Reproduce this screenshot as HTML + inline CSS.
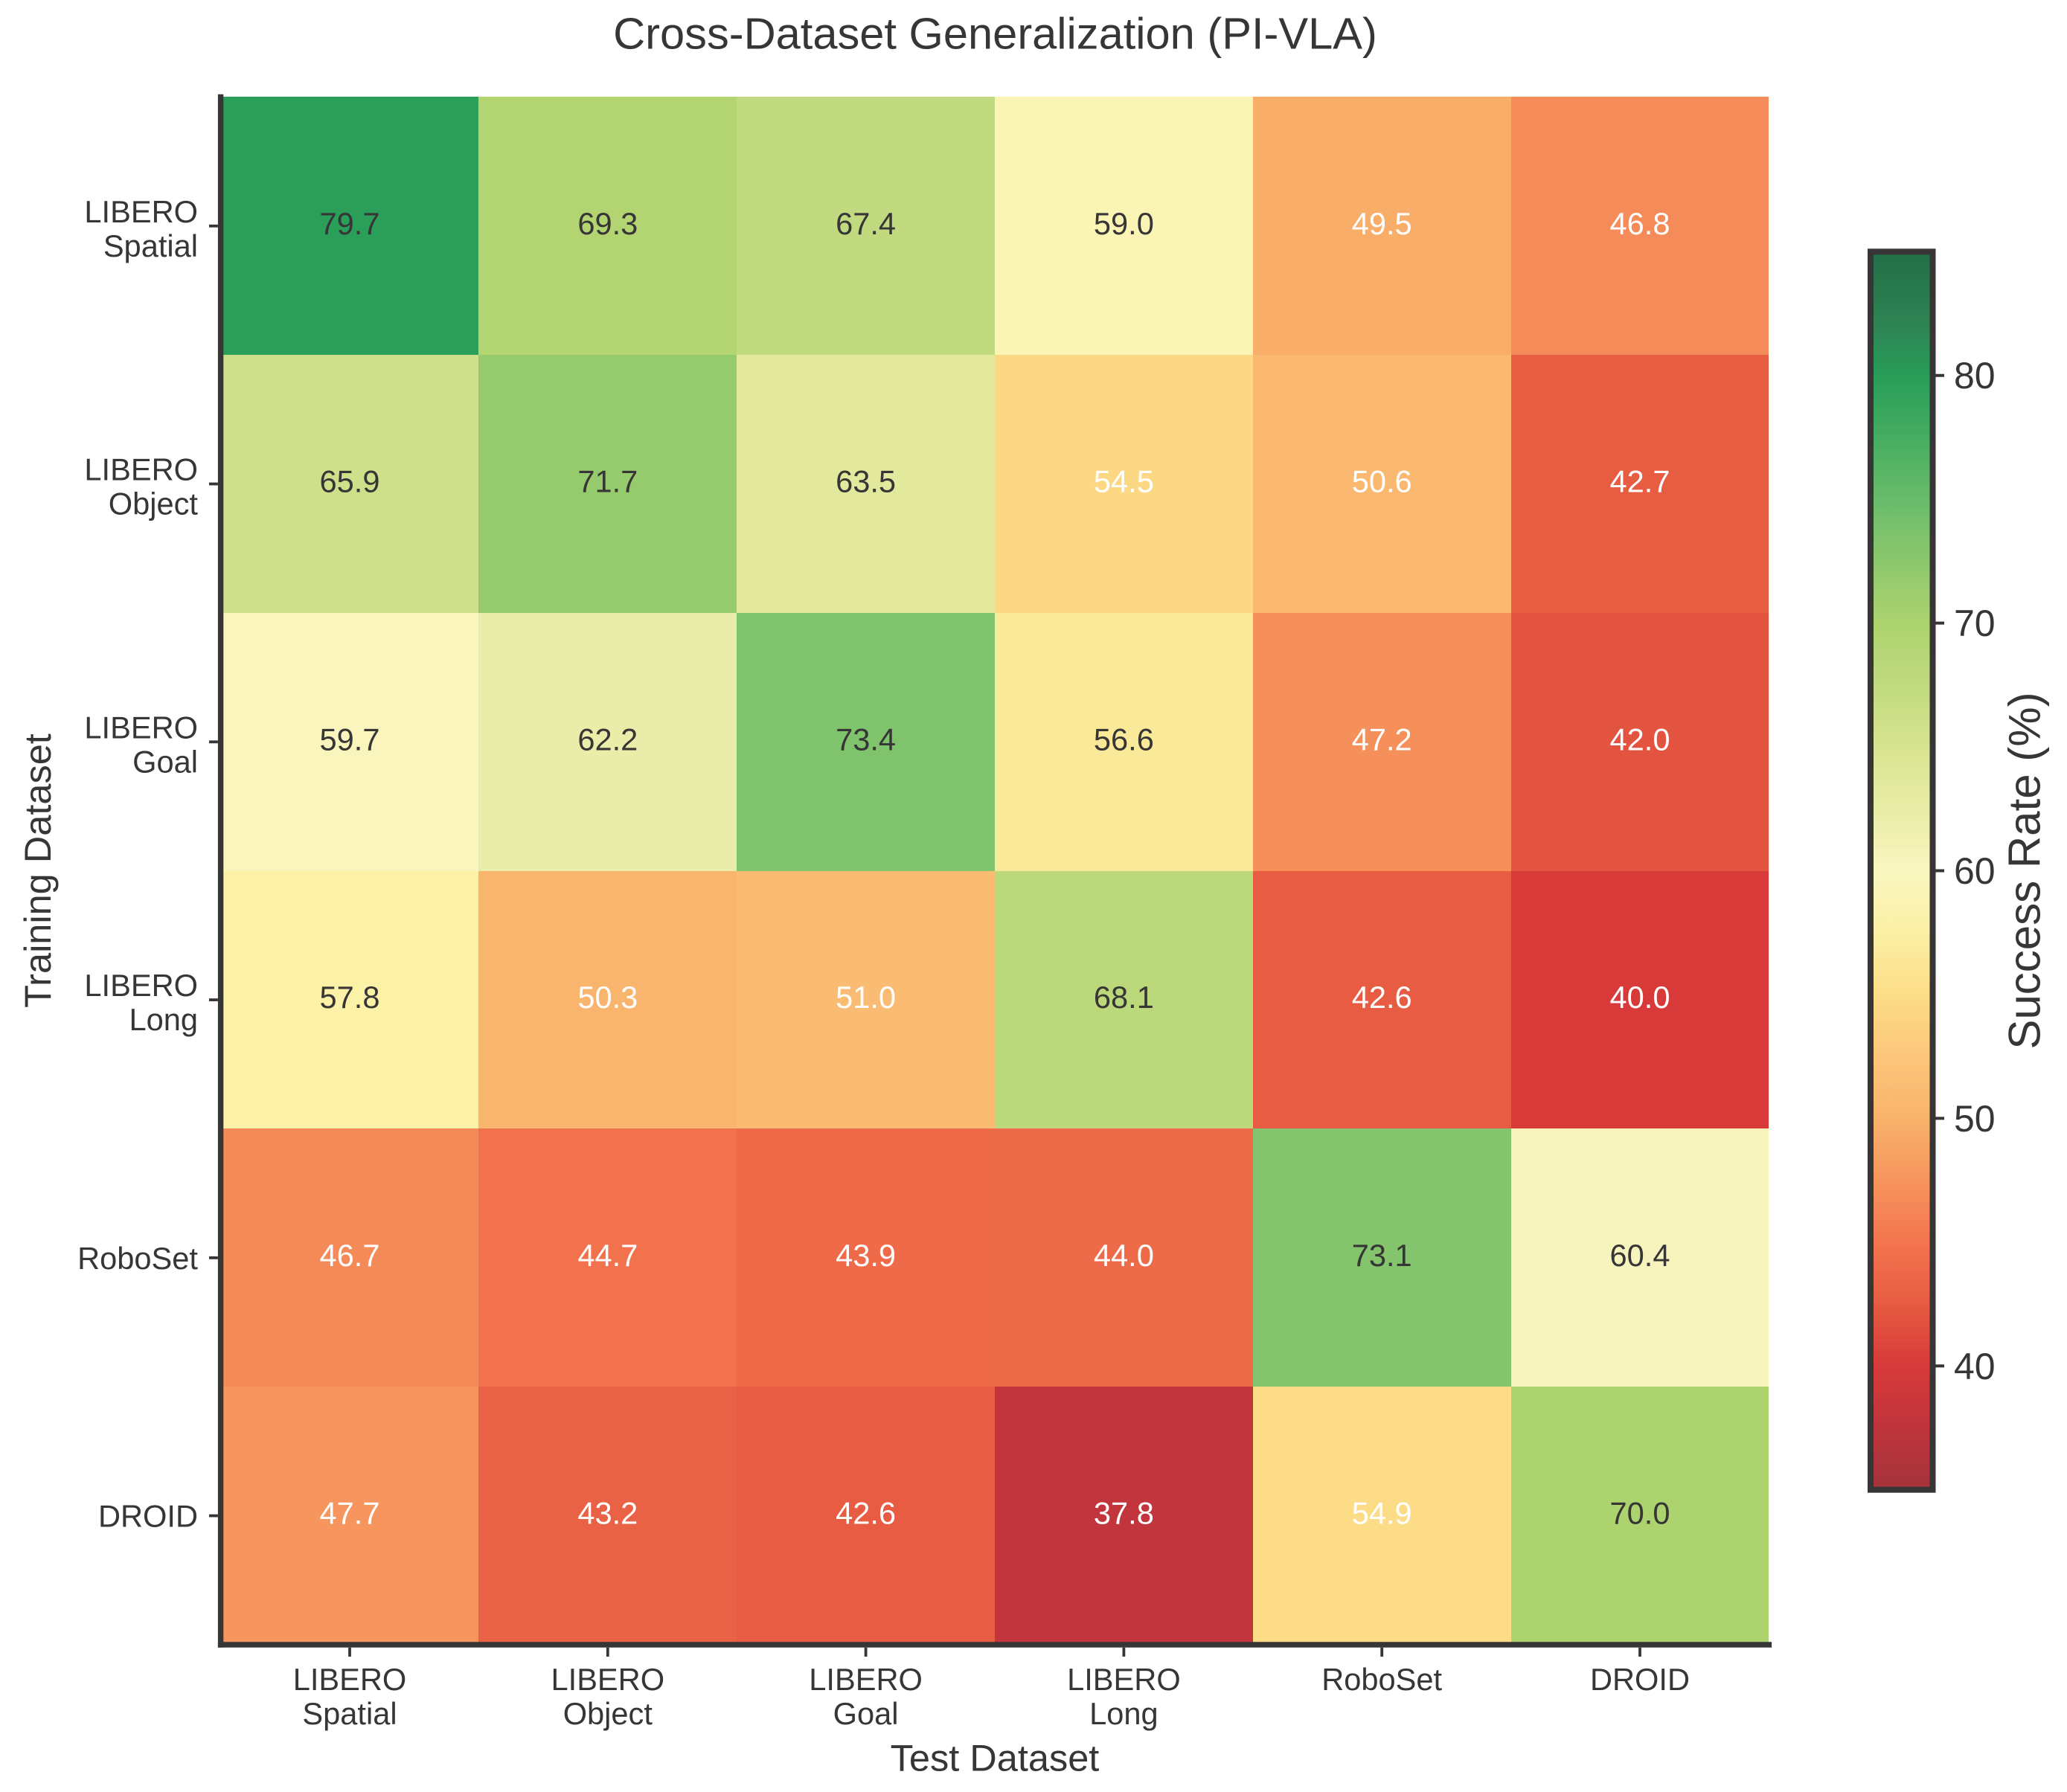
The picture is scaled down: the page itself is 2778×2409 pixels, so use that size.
<!DOCTYPE html>
<html lang="en">
<head>
<meta charset="utf-8">
<title>Cross-Dataset Generalization (PI-VLA)</title>
<style>
html,body{margin:0;padding:0;background:#fff;}
svg{display:block;}
text{font-family:"Liberation Sans",Arial,sans-serif;fill:#373536;}
</style>
</head>
<body>
<svg id="chart" xmlns="http://www.w3.org/2000/svg" width="2778" height="2409" viewBox="0 0 2778 2409">
  <rect x="0" y="0" width="2778" height="2409" fill="#ffffff"/>
  <text x="1337.5" y="65.5" font-size="59.6" text-anchor="middle">Cross-Dataset Generalization (PI-VLA)</text>
  <g id="cells"></g>
  <g id="xAxis"></g>
  <g id="yAxis"></g>
  <text x="1337" y="2380.5" font-size="50.5" text-anchor="middle">Test Dataset</text>
  <text transform="translate(68 1170.5) rotate(-90)" font-size="50.5" text-anchor="middle">Training Dataset</text>
  <defs>
    <linearGradient id="cbarGradient" x1="0" y1="1" x2="0" y2="0"></linearGradient>
  </defs>
  <g id="colorbar"></g>
  <text transform="translate(2741.5 1170.5) rotate(-90)" font-size="60" text-anchor="middle">Success Rate (%)</text>
</svg>
<script>
const testDatasets = [["LIBERO", "Spatial"], ["LIBERO", "Object"], ["LIBERO", "Goal"], ["LIBERO", "Long"], ["RoboSet"], ["DROID"]];
const trainDatasets = [["LIBERO", "Spatial"], ["LIBERO", "Object"], ["LIBERO", "Goal"], ["LIBERO", "Long"], ["RoboSet"], ["DROID"]];
const rowLiberoSpatial = [79.7, 69.3, 67.4, 59.0, 49.5, 46.8];
const rowLiberoObject = [65.9, 71.7, 63.5, 54.5, 50.6, 42.7];
const rowLiberoGoal = [59.7, 62.2, 73.4, 56.6, 47.2, 42.0];
const rowLiberoLong = [57.8, 50.3, 51.0, 68.1, 42.6, 40.0];
const rowRoboSet = [46.7, 44.7, 43.9, 44.0, 73.1, 60.4];
const rowDroid = [47.7, 43.2, 42.6, 37.8, 54.9, 70.0];
const successRates = [rowLiberoSpatial, rowLiberoObject, rowLiberoGoal, rowLiberoLong, rowRoboSet, rowDroid];
const colorDomain = [35, 85];
const colorbarTicks = [40, 50, 60, 70, 80];
const colormapLevels = [35, 37.5, 40, 42.5, 45, 47.5, 50, 52.5, 55, 57.5, 60, 62.5, 65, 67.5, 70, 72.5, 75, 77.5, 80, 82, 85];
const colormapColors = ["#a5333b", "#bf343c", "#d83a3a", "#e65b41", "#f4754f", "#f6945d", "#f9b36c", "#fcc67b", "#fcdd88", "#fbf0a4", "#f9f6c0", "#e8eca6", "#d8e490", "#c0da7e", "#acd36e", "#8cc76d", "#68bc6b", "#45ac60", "#279d58", "#2f8455", "#216e46"];
const whiteTextBelow = 55;

const SVG_NS = "http://www.w3.org/2000/svg";
const INK = "#373536";
const plot = { left: 296.6, right: 2377.4, top: 130.4, bottom: 2211 };
const cbar = { left: 2514, right: 2597.5, top: 338.3, bottom: 2002.7 };

function make(tag, attrs, parent) {
  const el = document.createElementNS(SVG_NS, tag);
  for (const k in attrs) el.setAttribute(k, attrs[k]);
  parent.appendChild(el);
  return el;
}
function xBand(c) { return plot.left + (plot.right - plot.left) * c / testDatasets.length; }
function yBand(r) { return plot.top + (plot.bottom - plot.top) * r / trainDatasets.length; }
function xCenter(c) { return xBand(c + 0.5); }
function yCenter(r) { return yBand(r + 0.5); }
function colorFraction(v) { return (v - colorDomain[0]) / (colorDomain[1] - colorDomain[0]); }
function cbarY(v) { return cbar.bottom - (cbar.bottom - cbar.top) * colorFraction(v); }
function hexToRgb(h) { return [1, 3, 5].map(i => parseInt(h.substr(i, 2), 16)); }
function colorFor(v) {
  const clamped = Math.max(colorDomain[0], Math.min(colorDomain[1], v));
  let i = 0;
  while (i < colormapLevels.length - 2 && clamped > colormapLevels[i + 1]) i++;
  const f = (clamped - colormapLevels[i]) / (colormapLevels[i + 1] - colormapLevels[i]);
  const a = hexToRgb(colormapColors[i]);
  const b = hexToRgb(colormapColors[i + 1]);
  const rgb = a.map((x, k) => Math.round(x + (b[k] - x) * f));
  return "rgb(" + rgb.join(",") + ")";
}

const cellsG = document.getElementById("cells");
successRates.forEach((row, r) => {
  row.forEach((value, c) => {
    const x0 = Math.round(xBand(c)), x1 = Math.round(xBand(c + 1));
    const y0 = Math.round(yBand(r)), y1 = Math.round(yBand(r + 1));
    const cell = make("rect", { x: x0, y: y0, width: x1 - x0, height: y1 - y0, fill: colorFor(value), "shape-rendering": "crispEdges" }, cellsG);
    
    
  });
});
successRates.forEach((row, r) => {
  row.forEach((value, c) => {
    const label = make("text", { x: xCenter(c), y: yCenter(r) + 11, "font-size": 41.6, "text-anchor": "middle" }, cellsG);
    
    
    label.style.fill = value < whiteTextBelow ? "#ffffff" : INK;
    label.textContent = value.toFixed(1);
  });
});

const xAxisG = document.getElementById("xAxis");
const yAxisG = document.getElementById("yAxis");
const leftSpine = make("line", { x1: plot.left, y1: plot.top - 3.6, x2: plot.left, y2: plot.bottom + 3.7, stroke: INK, "stroke-width": 7.4 }, yAxisG);


const bottomSpine = make("line", { x1: plot.left - 3.7, y1: plot.bottom, x2: plot.right + 3.7, y2: plot.bottom, stroke: INK, "stroke-width": 7.6 }, xAxisG);



testDatasets.forEach((lines, c) => {
  const x = xCenter(c);
  const tick = make("line", { x1: x, y1: plot.bottom + 3.8, x2: x, y2: 2227, stroke: INK, "stroke-width": 3.8 }, xAxisG);
  
  
  lines.forEach((line, i) => {
    const t = make("text", { x: x, y: 2272 + i * 46, "font-size": 41.6, "text-anchor": "middle" }, xAxisG);
    
    
    t.textContent = line;
  });
});
trainDatasets.forEach((lines, r) => {
  const y = yCenter(r);
  const tick = make("line", { x1: 281, y1: y, x2: plot.left - 3.7, y2: y, stroke: INK, "stroke-width": 3.8 }, yAxisG);
  
  
  const firstBaseline = lines.length === 2 ? y - 5 : y + 15;
  lines.forEach((line, i) => {
    const t = make("text", { x: 266, y: firstBaseline + i * 46, "font-size": 41.6, "text-anchor": "end" }, yAxisG);
    
    
    t.textContent = line;
  });
});

const grad = document.getElementById("cbarGradient");
colormapLevels.forEach((level, i) => {
  make("stop", { offset: colorFraction(level), "stop-color": colormapColors[i] }, grad);
});
const cbarG = document.getElementById("colorbar");
const cbarFill = make("rect", { x: cbar.left, y: cbar.top, width: cbar.right - cbar.left, height: cbar.bottom - cbar.top, fill: "url(#cbarGradient)" }, cbarG);


const cbarFrame = make("rect", { x: cbar.left, y: cbar.top, width: cbar.right - cbar.left, height: cbar.bottom - cbar.top, fill: "none", stroke: INK, "stroke-width": 8 }, cbarG);


colorbarTicks.forEach(v => {
  const y = cbarY(v);
  const tick = make("line", { x1: cbar.right + 4, y1: y, x2: 2613, y2: y, stroke: INK, "stroke-width": 4 }, cbarG);
  
  
  const t = make("text", { x: 2626, y: y + 17.5, "font-size": 50 }, cbarG);
  
  
  t.textContent = v;
});
</script>
</body>
</html>
